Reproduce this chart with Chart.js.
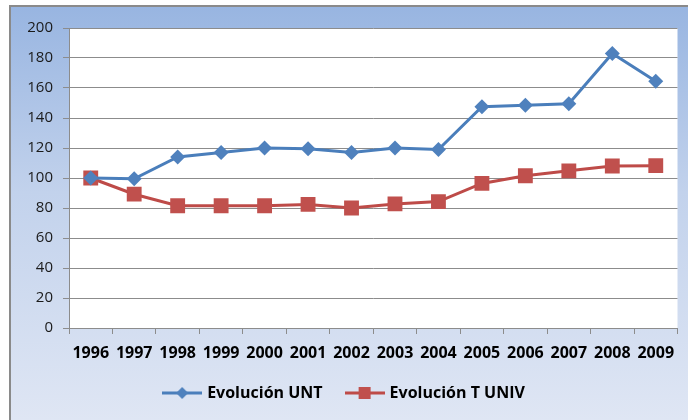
<!DOCTYPE html>
<html>
<head>
<meta charset="utf-8">
<script src="https://cdn.jsdelivr.net/npm/chart.js@4/dist/chart.umd.min.js"></script>
<style>
  html, body { margin: 0; padding: 0; background: #ffffff; }
  #wrap { width: 688px; height: 420px; position: relative; }
</style>
</head>
<body>
<div id="wrap"><canvas id="c" width="688" height="420"></canvas></div>
<script>
const categories = ['1996','1997','1998','1999','2000','2001','2002','2003','2004','2005','2006','2007','2008','2009'];
const seriesNames = ['Evolución UNT', 'Evolución T UNIV'];
const unt = [100, 99.5, 114, 117, 120, 119.5, 117, 120, 119, 147.5, 148.5, 149.5, 183, 164.5];
const tuniv = [100, 89.2, 81.5, 81.5, 81.5, 82.4, 80, 82.7, 84.3, 96.4, 101.5, 104.8, 108, 108.2];
const yTicks = [0, 20, 40, 60, 80, 100, 120, 140, 160, 180, 200];

const blueLine = '#4a7ebb', blueFill = '#4f81bd';
const redLine = '#be4b48', redFill = '#c0504d';
const gridColor = '#8c8c8c';

function legendImage(lineColor, fill, shape) {
  const cv = document.createElement('canvas');
  cv.width = 40; cv.height = 16;
  const g = cv.getContext('2d');
  g.strokeStyle = lineColor; g.lineWidth = 3;
  g.beginPath(); g.moveTo(0, 8); g.lineTo(40, 8); g.stroke();
  g.fillStyle = fill;
  if (shape === 'diamond') {
    g.beginPath(); g.moveTo(20, 2); g.lineTo(26, 8); g.lineTo(20, 14); g.lineTo(14, 8); g.closePath(); g.fill();
  } else {
    g.fillRect(14, 2, 12, 12);
  }
  return cv;
}

const bgPlugin = {
  id: 'bg',
  beforeDraw(chart) {
    const ctx = chart.ctx;
    const W = chart.width, H = chart.height;
    ctx.save();
    ctx.fillStyle = '#ffffff';
    ctx.fillRect(0, 0, W, H);
    const grad = ctx.createLinearGradient(0, 6, 0, H);
    grad.addColorStop(0, '#98b5e1');
    grad.addColorStop(0.45, '#c2d2ec');
    grad.addColorStop(1, '#dfe6f4');
    ctx.fillStyle = grad;
    ctx.fillRect(10, 6, W - 10, H - 6);
    ctx.strokeStyle = '#8a8a8a';
    ctx.lineWidth = 2;
    ctx.beginPath();
    ctx.moveTo(10, H); ctx.lineTo(10, 6); ctx.lineTo(W, 6);
    ctx.stroke();
    const a = chart.chartArea;
    ctx.fillStyle = '#ffffff';
    ctx.fillRect(a.left, a.top, a.right - a.left, a.bottom - a.top);
    ctx.restore();
  }
};

new Chart(document.getElementById('c'), {
  type: 'line',
  data: {
    labels: categories,
    datasets: [
      {
        label: seriesNames[0],
        data: unt,
        borderColor: blueLine,
        backgroundColor: blueFill,
        borderWidth: 3,
        pointStyle: 'rectRot',
        pointRadius: 7.5,
        pointBorderWidth: 0,
        pointBackgroundColor: blueFill,
        tension: 0
      },
      {
        label: seriesNames[1],
        data: tuniv,
        borderColor: redLine,
        backgroundColor: redFill,
        borderWidth: 3,
        pointStyle: 'rect',
        pointRadius: 10.5,
        pointBorderWidth: 0,
        pointBackgroundColor: redFill,
        tension: 0
      }
    ]
  },
  options: {
    responsive: false,
    animation: false,
    devicePixelRatio: 1,
    layout: { padding: { left: 10, top: 28, right: 8, bottom: 9 } },
    plugins: {
      title: { display: false },
      tooltip: { enabled: false },
      legend: {
        position: 'bottom',
        align: 'center',
        labels: {
          usePointStyle: true,
          pointStyleWidth: 34,
          padding: 25,
          color: '#000000',
          font: { family: 'Open Sans', size: 16, weight: 'bold' },
          generateLabels(chart) {
            const imgs = [legendImage(blueLine, blueFill, 'diamond'), legendImage(redLine, redFill, 'square')];
            return chart.data.datasets.map((ds, i) => ({
              text: ds.label,
              pointStyle: imgs[i],
              fillStyle: ds.backgroundColor,
              strokeStyle: ds.borderColor,
              lineWidth: 0,
              hidden: false,
              datasetIndex: i
            }));
          }
        }
      }
    },
    scales: {
      x: {
        offset: true,
        grid: { display: true, drawOnChartArea: false, drawTicks: true, tickLength: 6, offset: true, color: gridColor },
        border: { display: true, color: gridColor, width: 1 },
        ticks: { color: '#000000', padding: 10, maxRotation: 0, autoSkip: false, font: { family: 'Open Sans', size: 16, weight: 'bold' } },
        afterFit(scale) { scale.height = 32; }
      },
      y: {
        min: 0,
        max: 200,
        afterBuildTicks(scale) { scale.ticks = yTicks.map(v => ({ value: v })); },
        grid: { color: gridColor, lineWidth: 1, drawTicks: true, tickLength: 6 },
        border: { display: true, color: gridColor, width: 1 },
        ticks: { color: '#1a1a1a', padding: 10, font: { family: 'Open Sans', size: 15 } },
        afterFit(scale) { scale.width = 59; }
      }
    }
  },
  plugins: [bgPlugin]
});
</script>
</body>
</html>
